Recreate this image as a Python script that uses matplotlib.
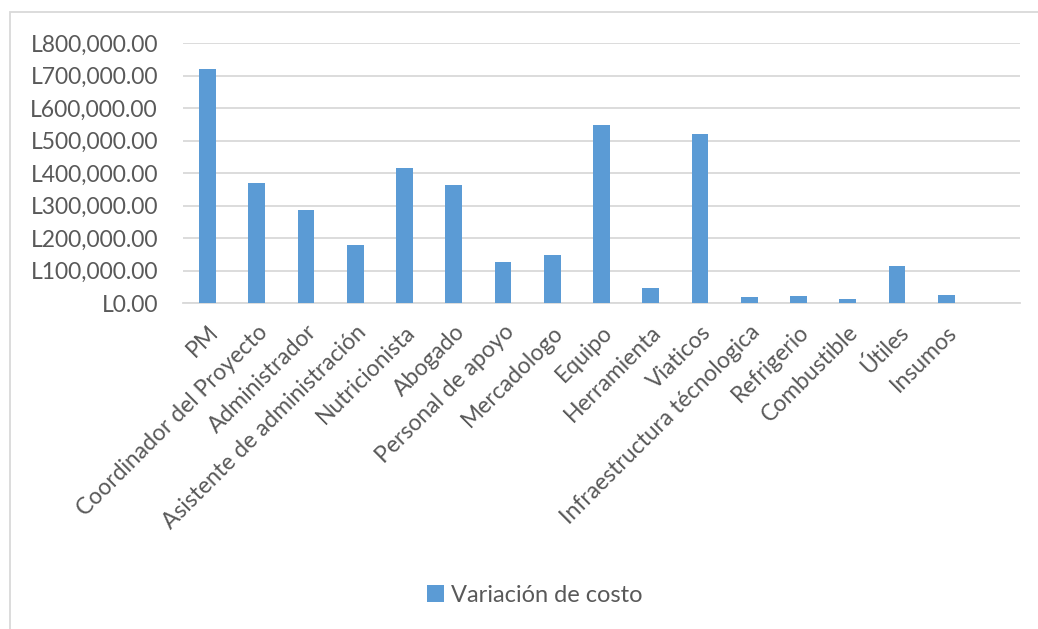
# Bar chart of the cost variation per budget item

import numpy as np
from matplotlib import pyplot as plt
from matplotlib.patches import Rectangle
from matplotlib.ticker import FuncFormatter

categorias = ['PM', 'Coordinador del Proyecto', 'Administrador',
              'Asistente de administración', 'Nutricionista', 'Abogado',
              'Personal de apoyo', 'Mercadologo', 'Equipo', 'Herramienta',
              'Viaticos', 'Infraestructura técnologica', 'Refrigerio',
              'Combustible', 'Útiles', 'Insumos']
variacion = [720000, 371000, 287000, 178000, 417000, 363000, 126000,
             149000, 550000, 48000, 520000, 18000, 21000, 12000, 116000,
             27000]
serie = 'Variación de costo'

plt.rcParams['font.family'] = ['Lato', 'DejaVu Sans']
gris = '#595959'
azul = '#5B9BD5'

fig = plt.figure(figsize=(10.38, 6.29), dpi=100)
ax = fig.add_axes([183/1038, 1 - 303.3/629, (1020 - 183)/1038, 260/629])

x = np.arange(len(categorias))
ax.bar(x, variacion, width=0.34, color=azul, label=serie, zorder=3)

ax.set_xlim(-0.5, len(categorias) + 0.5)  # one empty slot at the end, like Excel
ax.set_ylim(0, 800000)
ax.set_yticks(np.arange(0, 800001, 100000))
ax.yaxis.set_major_formatter(FuncFormatter(lambda v, p: 'L{:,.2f}'.format(v)))
ax.grid(axis='y', color='#d9d9d9', linewidth=1.3, zorder=0)
for s in ['top', 'right', 'left']:
    ax.spines[s].set_visible(False)
ax.spines['bottom'].set_color('#d9d9d9')
ax.spines['bottom'].set_linewidth(1.3)

ax.set_xticks(x)
ax.set_xticklabels(categorias, rotation=45, ha='right', rotation_mode='anchor')
ax.tick_params(axis='both', length=0, colors=gris)
ax.tick_params(axis='y', pad=18, labelsize=16.5)
ax.tick_params(axis='x', pad=13, labelsize=16.5)

# chart area border (runs off the right and bottom of the picture)
fig.patches.append(Rectangle((10/1038, -0.05), 1.1, 1 - 12/629 + 0.05,
                             transform=fig.transFigure, fill=False,
                             edgecolor='#d9d9d9', linewidth=1.3))

fig.legend(loc='center', bbox_to_anchor=(535/1038, 1 - 595/629), frameon=False,
           fontsize=17, labelcolor=gris, handlelength=0.7, handleheight=0.7,
           handletextpad=0.3)

fig.savefig('out.png', dpi=100)
